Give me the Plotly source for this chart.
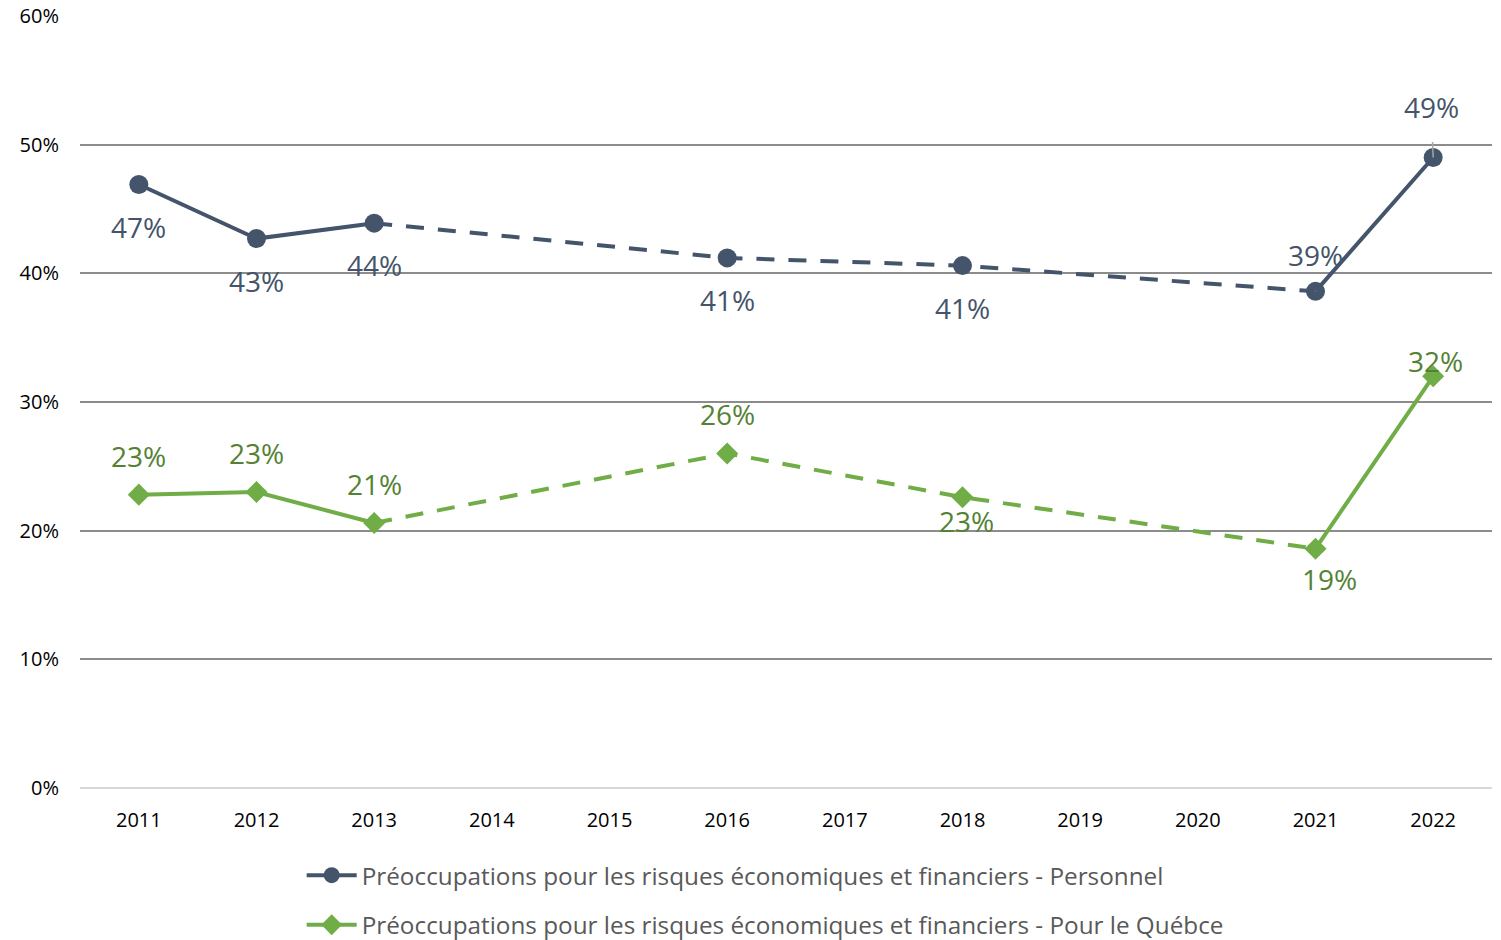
import plotly.graph_objects as go

# Survey years shown on the category axis
years = ["2011", "2012", "2013", "2014", "2015", "2016", "2017",
         "2018", "2019", "2020", "2021", "2022"]

# Share of respondents concerned (fraction); None = no survey that year
personnel = [0.469, 0.427, 0.439, None, None, 0.412, None,
             0.406, None, None, 0.386, 0.490]
quebec = [0.228, 0.230, 0.206, None, None, 0.260, None,
          0.226, None, None, 0.186, 0.320]

name_personnel = "Préoccupations pour les risques économiques et financiers - Personnel"
name_quebec = "Préoccupations pour les risques économiques et financiers - Pour le Québce"

NAVY = "#44546A"
GREEN = "#70AD47"
GREEN_TXT = "#548235"
FONT = "Open Sans"

# Surveyed years joined by dashes (the gap years in between have no data)
dash_years = {"2013", "2016", "2018", "2021"}


def split(values):
    solid_a = [v if y in {"2011", "2012", "2013"} else None for y, v in zip(years, values)]
    solid_b = [v if y in {"2021", "2022"} else None for y, v in zip(years, values)]
    dashed = [v if y in dash_years else None for y, v in zip(years, values)]
    return solid_a, solid_b, dashed


fig = go.Figure()

for values, name, color, symbol, msize, group in [
    (personnel, name_personnel, NAVY, "circle", 19, "p"),
    (quebec, name_quebec, GREEN, "diamond", 17, "q"),
]:
    solid_a, solid_b, dashed = split(values)
    fig.add_trace(go.Scatter(
        x=years, y=dashed, mode="lines", connectgaps=True,
        line=dict(color=color, width=4, dash="18px,14px"),
        showlegend=False, legendgroup=group, hoverinfo="skip"))
    for seg in (solid_a, solid_b):
        fig.add_trace(go.Scatter(
            x=years, y=seg, mode="lines", connectgaps=False,
            line=dict(color=color, width=4),
            showlegend=False, legendgroup=group, hoverinfo="skip"))
    fig.add_trace(go.Scatter(
        x=years, y=values, mode="markers", name=name,
        marker=dict(color=color, size=msize, symbol=symbol,
                    line=dict(width=0)),
        legendgroup=group, showlegend=False))
    # legend-only entry showing line and marker together
    fig.add_trace(go.Scatter(
        x=[None], y=[None], mode="lines+markers", name=name,
        line=dict(color=color, width=4),
        marker=dict(color=color, size=msize, symbol=symbol),
        legendgroup=group, showlegend=True))

# Data-label placement (pixel offsets from each point, +y = up)
label_offsets_p = {"2011": (0, -42), "2012": (0, -42), "2013": (0, -42),
                   "2016": (0, -42), "2018": (0, -42), "2021": (0, 36),
                   "2022": (-2, 51)}
label_offsets_q = {"2011": (0, 39), "2012": (0, 39), "2013": (0, 39),
                   "2016": (0, 39), "2018": (4, -24), "2021": (14, -30),
                   "2022": (2, 15)}
leader_years = {"2021", "2022"}

annotations = []
for values, offsets, color, leaders in [
    (personnel, label_offsets_p, NAVY, leader_years),
    (quebec, label_offsets_q, GREEN_TXT, set()),
]:
    for i, (y, v) in enumerate(zip(years, values)):
        if v is None:
            continue
        dx, dy = offsets[y]
        text = f"{round(v * 100):.0f}%"
        # category index is used for x so numeric-looking labels are not read as values
        if y in leaders:
            annotations.append(dict(
                x=i, y=v, xref="x", yref="y", text=text, showarrow=True,
                arrowhead=0, arrowwidth=1.5, arrowcolor="#A6A6A6",
                ax=dx, ay=-dy, standoff=0, startstandoff=15,
                font=dict(family=FONT, size=28, color=color)))
        else:
            annotations.append(dict(
                x=i, y=v, xref="x", yref="y", text=text, showarrow=False,
                xshift=dx, yshift=dy,
                font=dict(family=FONT, size=28, color=color)))

fig.update_layout(
    width=1501, height=940,
    margin=dict(l=80, r=9, t=16, b=152, autoexpand=False),
    paper_bgcolor="white", plot_bgcolor="white",
    font=dict(family=FONT, color="#000000"),
    annotations=annotations,
    showlegend=True,
    legend=dict(
        orientation="v", x=0.157, xanchor="left", y=-0.084, yanchor="top",
        font=dict(family=FONT, size=24.3, color="#595959"),
        traceorder="grouped", tracegroupgap=15, itemwidth=50,
        bgcolor="rgba(0,0,0,0)"),
    xaxis=dict(
        type="category", categoryorder="array", categoryarray=years,
        range=[-0.5, 11.5], showgrid=False, showline=False, zeroline=False,
        ticks="", tickfont=dict(family=FONT, size=20, color="#000000"),
        ticklabelstandoff=18, automargin=False),
    yaxis=dict(
        range=[0, 0.6], dtick=0.1, tickformat=".0%",
        showgrid=True, gridcolor="#8C8C8C", gridwidth=1.5,
        zeroline=True, zerolinecolor="#D9D9D9", zerolinewidth=1.5,
        showline=False, ticks="",
        tickfont=dict(family=FONT, size=20, color="#000000"),
        ticklabelstandoff=20, automargin=False),
)

fig.write_html("out.html")
